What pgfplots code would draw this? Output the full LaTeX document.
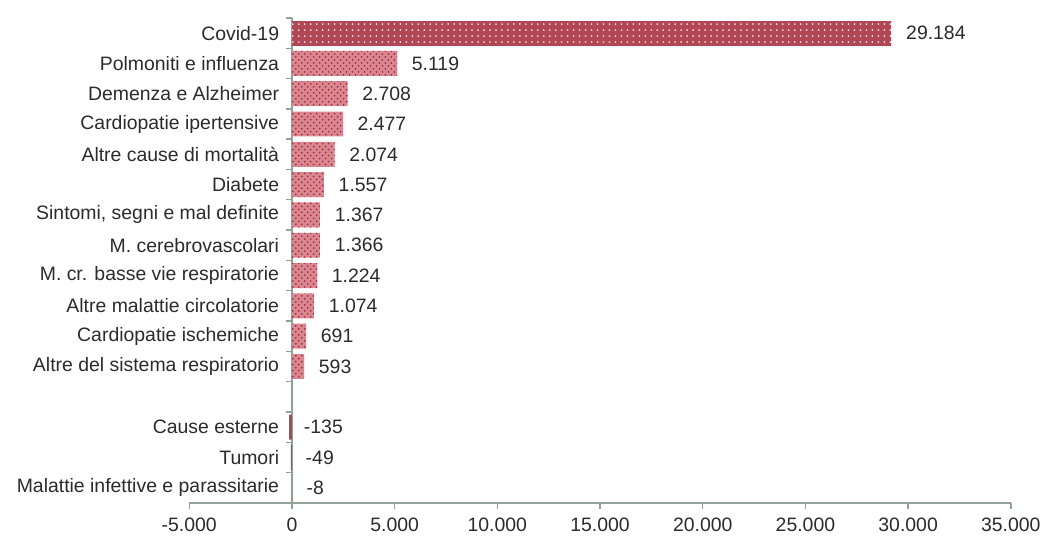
\documentclass[border=0pt]{standalone}
\usepackage{pgfplots}
\pgfplotsset{compat=1.18}
\usetikzlibrary{patterns}
\usepackage{fontspec}
\setmainfont{Liberation Sans}

\definecolor{covid}{HTML}{B14654}
\definecolor{barfill}{HTML}{D98791}
\definecolor{bardot}{HTML}{A82E3E}
\definecolor{axisc}{HTML}{8FA396}
\definecolor{txt}{HTML}{2B2B2B}

\begin{document}
\fontsize{9.75}{11.5}\selectfont
\begin{tikzpicture}
\begin{axis}[
        scale only axis,
        width=412.5pt,
        height=243.5pt,
        xbar,
        bar width=12.5pt,
        xmin=-5000, xmax=35000,
        ymin=-0.5, ymax=15.5,
        axis x line=bottom,
        axis y line=middle,
        hide obscured x ticks=false,
        hide obscured y ticks=false,
        axis line style={axisc, line width=0.7pt, -},
        xtick={-5000,0,...,35000},
        scaled x ticks=false,
        /pgf/number format/1000 sep={.},
        /pgf/number format/assume math mode=true,
        ytick={0,1,2,4,5,6,7,8,9,10,11,12,13,14,15},
        yticklabels={Malattie infettive e parassitarie, Tumori, Cause esterne,
            Altre del sistema respiratorio, Cardiopatie ischemiche,
            Altre malattie circolatorie, M. cr. basse vie respiratorie,
            M. cerebrovascolari, {Sintomi, segni e mal definite}, Diabete,
            Altre cause di mortalità, Cardiopatie ipertensive,
            Demenza e Alzheimer, Polmoniti e influenza, Covid-19},
        ytick style={draw=none},
        extra y ticks={-0.5,0.5,1.5,2.5,3.5,4.5,5.5,6.5,7.5,8.5,9.5,10.5,11.5,12.5,13.5,14.5,15.5},
        extra y tick labels={},
        extra y tick style={ytick style={draw=axisc, line width=0.7pt}},
        xtick style={axisc, line width=0.7pt},
        tick align=outside,
        major tick length=3pt,
        xticklabel shift=1pt,
        tick label style={text=txt},
        every node near coord/.append style={anchor=west, xshift=4pt, text=txt},
    ]
\addplot [draw=none, fill=covid, bar shift=0pt,
          postaction={pattern=dots, pattern color=white!80!covid},
          point meta=x,
          nodes near coords={\pgfmathprintnumber[fixed,precision=0,1000 sep={.}]{\pgfplotspointmeta}}]
    coordinates {(29184,15)};
\addplot [draw=none, fill=barfill, bar shift=0pt,
          postaction={pattern=crosshatch dots, pattern color=bardot},
          point meta=x,
          nodes near coords={\pgfmathprintnumber[fixed,precision=0,1000 sep={.}]{\pgfplotspointmeta}}]
    coordinates {(593,4) (691,5) (1074,6) (1224,7) (1366,8) (1367,9)
                 (1557,10) (2074,11) (2477,12) (2708,13) (5119,14)};
\addplot [draw=none, fill=covid, bar shift=0pt,
          point meta=x,
          nodes near coords={\pgfmathprintnumber[fixed,precision=0,1000 sep={.}]{\pgfplotspointmeta}}]
    coordinates {(-135,2) (-49,1) (-8,0)};
\end{axis}
\path ([shift={(-95pt,-15.5pt)}]current axis.south west)
      rectangle ([shift={(16pt,9pt)}]current axis.north east);
\end{tikzpicture}
\end{document}
